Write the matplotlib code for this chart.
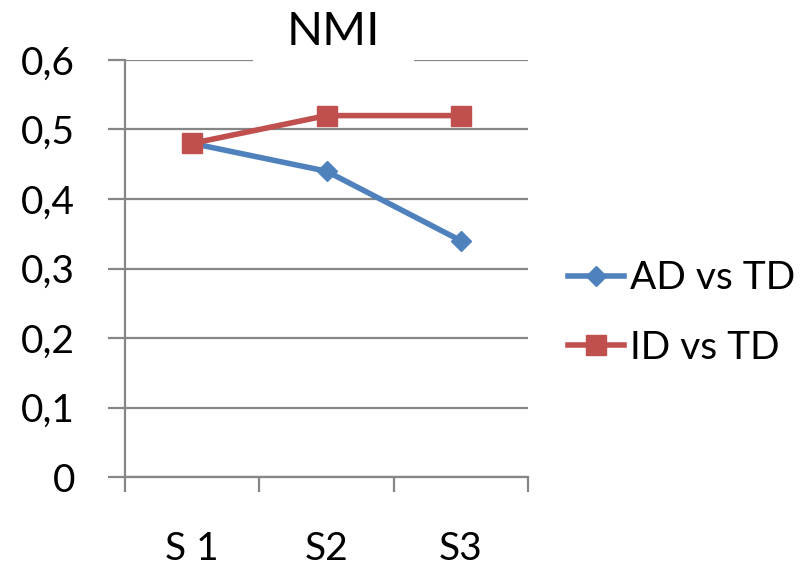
import matplotlib
matplotlib.use("Agg")
import matplotlib.pyplot as plt
from matplotlib.patches import Rectangle

plt.rcParams['font.family'] = ['Lato', 'DejaVu Sans']

categories = ['S 1', 'S2', 'S3']
ad_vs_td = [0.48, 0.44, 0.34]
id_vs_td = [0.48, 0.52, 0.52]
y_ticks = [0, 0.1, 0.2, 0.3, 0.4, 0.5, 0.6]
y_labels = ['0', '0,1', '0,2', '0,3', '0,4', '0,5', '0,6']

grey = '#868686'
blue = '#4F81BD'
red = '#C0504D'

W, H = 808, 569
fig = plt.figure(figsize=(W / 100, H / 100), dpi=100)
ax = fig.add_axes([125 / W, (H - 477) / H, (528 - 125) / W, (477 - 60) / H])

x = list(range(len(categories)))
ax.plot(x, ad_vs_td, color=blue, lw=4, marker='D', markersize=10,
        label='AD vs TD', zorder=3)
ax.plot(x, id_vs_td, color=red, lw=4, marker='s', markersize=14,
        label='ID vs TD', zorder=4)

ax.set_xlim(-0.5, len(categories) - 0.5)
ax.set_ylim(0, 0.6)

# y axis: gridlines plus outward ticks
ax.set_yticks(y_ticks)
ax.set_yticklabels(y_labels, fontsize=28)
ax.yaxis.grid(True, color=grey, lw=1.6)
ax.tick_params(axis='y', length=12, width=1.6, color=grey, pad=24)

# x axis: ticks between categories, labels centered on them
ax.set_xticks([i - 0.5 for i in range(len(categories) + 1)])
ax.set_xticklabels([])
ax.set_xticks(x, minor=True)
ax.set_xticklabels(categories, minor=True, fontsize=28)
ax.tick_params(axis='x', which='major', length=11, width=1.6, color=grey)
ax.tick_params(axis='x', which='minor', length=0, pad=39)

for s in ['top', 'right']:
    ax.spines[s].set_visible(False)
for s in ['left', 'bottom']:
    ax.spines[s].set_color(grey)
    ax.spines[s].set_linewidth(1.6)
ax.set_axisbelow(True)

# title sits on a white box over the top gridline
fig.patches.append(Rectangle((253 / W, (H - 75) / H), (414 - 253) / W, 70 / H,
                             transform=fig.transFigure, facecolor='white',
                             edgecolor='none', zorder=2))
fig.text(333 / W, (H - 45) / H, 'NMI', fontsize=34, ha='center',
         va='baseline', zorder=3)

fig.legend(loc='center left', bbox_to_anchor=(568 / W, 1 - 313 / H),
           frameon=False, fontsize=28, handlelength=1.45, handletextpad=0.15,
           labelspacing=0.85, borderaxespad=0, borderpad=0)

fig.savefig('out.png', dpi=100)
